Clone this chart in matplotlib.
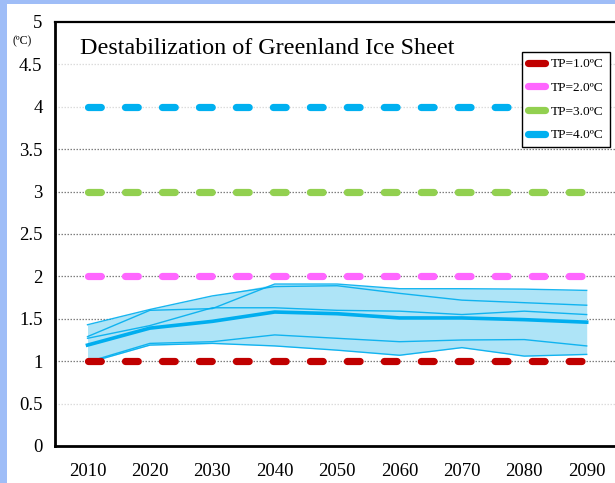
import matplotlib
matplotlib.use("Agg")
import matplotlib.pyplot as plt
import numpy as np
from matplotlib.patches import Rectangle
from matplotlib.lines import Line2D

# ---- data ----
years = [2010, 2020, 2030, 2040, 2050, 2060, 2070, 2080, 2090]
model_a = [1.43, 1.61, 1.77, 1.88, 1.89, 1.80, 1.72, 1.69, 1.66]
model_b = [1.29, 1.60, 1.62, 1.91, 1.91, 1.855, 1.855, 1.85, 1.835]
model_c = [1.27, 1.42, 1.63, 1.63, 1.60, 1.59, 1.55, 1.59, 1.55]
model_d = [0.99, 1.21, 1.23, 1.31, 1.27, 1.23, 1.25, 1.255, 1.18]
model_e = [0.98, 1.19, 1.21, 1.18, 1.13, 1.07, 1.16, 1.06, 1.08]
ensemble_mean = [1.19, 1.39, 1.47, 1.58, 1.56, 1.51, 1.51, 1.49, 1.46]

thresholds = [1.0, 2.0, 3.0, 4.0]
threshold_labels = ["TP=1.0ºC", "TP=2.0ºC", "TP=3.0ºC", "TP=4.0ºC"]
threshold_colors = ["#c00000", "#ff66ff", "#92d050", "#00b0f0"]

y_ticks = [0, 0.5, 1, 1.5, 2, 2.5, 3, 3.5, 4, 4.5, 5]
y_tick_labels = ["0", "0.5", "1", "1.5", "2", "2.5", "3", "3.5", "4", "4.5", "5"]
title = "Destabilization of Greenland Ice Sheet"

# ---- figure ----
W, H = 615, 483
fig = plt.figure(figsize=(W / 100, H / 100), dpi=100)
fig.patch.set_facecolor("white")

# light blue frame along the left and top edges
frame = "#9fbdf7"
fig.patches.append(Rectangle((0, 0), 7 / W, 1, transform=fig.transFigure,
                             facecolor=frame, edgecolor="none", zorder=0))
fig.patches.append(Rectangle((0, 1 - 4 / H), 1, 4 / H, transform=fig.transFigure,
                             facecolor=frame, edgecolor="none", zorder=0))

left_px, right_px, top_px, bottom_px = 55, 645, 22, 446
ax = fig.add_axes([left_px / W, 1 - bottom_px / H,
                   (right_px - left_px) / W, (bottom_px - top_px) / H])
ax.set_facecolor("white")

px_per_decade = 62.4
x0_px = 87.5
ax.set_xlim(2010 - (x0_px - left_px) / px_per_decade * 10,
            2010 + (right_px - x0_px) / px_per_decade * 10)
ax.set_ylim(0, 5)

serif = ["Liberation Serif", "DejaVu Serif"]

# gridlines
dark_grid = [1, 1.5, 2, 2.5, 3, 3.5]
for g in y_ticks[1:-1]:
    col = "#7f7f7f" if g in dark_grid else "#dcdcdc"
    ax.axhline(g, color=col, lw=0.9, ls=(0, (1.2, 1.2)), zorder=1)

# ensemble band and members
models = np.array([model_a, model_b, model_c, model_d, model_e])
line_col = "#00aeef"
ax.fill_between(years, models.min(axis=0), models.max(axis=0),
                color="#aee4f7", lw=0, zorder=2)
for m in models:
    ax.plot(years, m, color=line_col, lw=1.0, alpha=0.9, zorder=3)
ax.plot(years, ensemble_mean, color=line_col, lw=2.6, zorder=4)

# tipping-point thresholds
for val, col in zip(thresholds, threshold_colors):
    ax.plot([years[0], years[-1]], [val, val], color=col, lw=5.2,
            dashes=(1.77, 3.35), dash_capstyle="round", zorder=5)

# axes styling
ax.spines["right"].set_visible(False)
ax.spines["left"].set_linewidth(2.0)
ax.spines["bottom"].set_linewidth(2.0)
ax.spines["top"].set_linewidth(1.6)
ax.set_xticks(years)
ax.set_xticklabels([str(y) for y in years], fontfamily=serif, fontsize=13.5)
ax.set_yticks(y_ticks)
ax.set_yticklabels(y_tick_labels, fontfamily=serif, fontsize=13.5)
ax.tick_params(axis="both", length=0)
ax.tick_params(axis="y", pad=9)
ax.tick_params(axis="x", pad=12)

fig.text(22 / W, 1 - 41 / H, "(ºC)", fontfamily=serif, fontsize=8.5,
         ha="center", va="center")
fig.text(80 / W, 1 - 49 / H, title, fontfamily=serif, fontsize=17.4,
         ha="left", va="center")

handles = [Line2D([0], [0], color=c, lw=5.2, solid_capstyle="round")
           for c in threshold_colors]
leg = ax.legend(handles, threshold_labels, loc="upper right",
                bbox_to_anchor=(610 / W, 1 - 52 / H), bbox_transform=fig.transFigure,
                prop={"family": serif, "size": 9.6}, frameon=True, fancybox=False,
                framealpha=1.0, handlelength=1.25, handletextpad=0.5,
                borderpad=0.45, labelspacing=0.85, borderaxespad=0)
leg.get_frame().set_edgecolor("black")
leg.get_frame().set_linewidth(1.0)
leg.set_zorder(10)

fig.savefig("out.png", dpi=100)
